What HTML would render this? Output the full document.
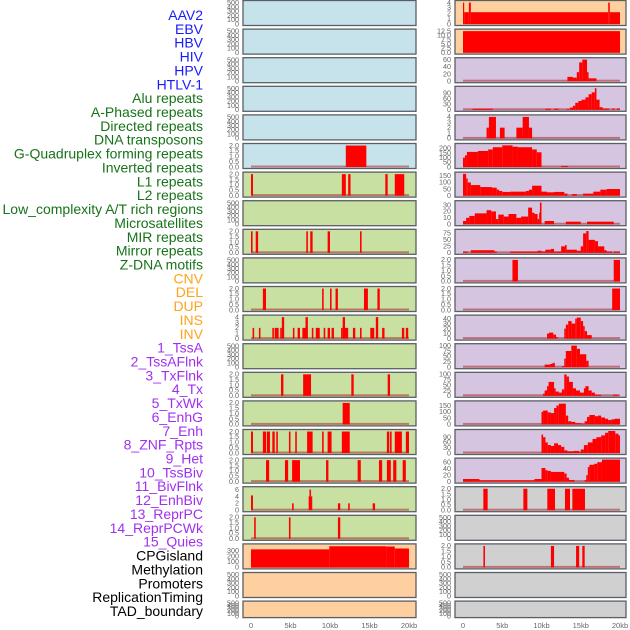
<!DOCTYPE html>
<html><head><meta charset="utf-8">
<style>
html,body{margin:0;padding:0;background:#fff;}
svg{display:block;font-family:"Liberation Sans",sans-serif;}
</style></head>
<body>
<svg id="chart" width="630" height="630" viewBox="0 0 630 630" xmlns="http://www.w3.org/2000/svg">
<g id="labels"></g>
<g id="panels"></g>
<g id="xaxis"></g>
</svg>
<script>
// ---- data ----
const featureLabels = ["AAV2","EBV","HBV","HIV","HPV","HTLV-1","Alu repeats","A-Phased repeats","Directed repeats","DNA transposons","G-Quadruplex forming repeats","Inverted repeats","L1 repeats","L2 repeats","Low_complexity A/T rich regions","Microsatellites","MIR repeats","Mirror repeats","Z-DNA motifs","CNV","DEL","DUP","INS","INV","1_TssA","2_TssAFlnk","3_TxFlnk","4_Tx","5_TxWk","6_EnhG","7_Enh","8_ZNF_Rpts","9_Het","10_TssBiv","11_BivFlnk","12_EnhBiv","13_ReprPC","14_ReprPCWk","15_Quies","CPGisland","Methylation","Promoters","ReplicationTiming","TAD_boundary"];
const labelGroups = ["virus","virus","virus","virus","virus","virus","repeat","repeat","repeat","repeat","repeat","repeat","repeat","repeat","repeat","repeat","repeat","repeat","repeat","sv","sv","sv","sv","sv","state","state","state","state","state","state","state","state","state","state","state","state","state","state","state","other","other","other","other","other"];
const xTickValues = [0,5,10,15,20];
const xTickLabels = ["0","5kb","10kb","15kb","20kb"];
const ticks500 = [0,100,200,300,400,500];
const ticks2 = [0,0.5,1,1.5,2];

// left column segments [startKb, endKb, value]
const L5 = [[12.0,14.6,2]];
const L6 = [[0,0.25,2],[11.5,12.0,2],[12.3,12.6,2],[17.0,17.3,2],[18.2,19.4,2]];
const L8 = [[0,0.2,2],[0.6,0.9,2],[7.0,7.2,2],[7.5,7.8,2],[9.7,10.0,2],[13.8,14.0,2]];
const L10 = [[1.5,1.9,2],[9.0,9.2,2],[10.0,10.2,2],[10.7,11.0,2],[14.3,14.8,2],[16.0,16.3,2]];
const L11 = [[0.2,0.4,2],[1.0,1.2,2],[2.7,2.9,2],[3.0,3.5,2],[3.7,3.9,2],[3.9,4.2,4],[5.3,5.5,2],[5.9,6.2,2],[6.5,6.9,2],[6.9,7.2,4],[7.7,7.9,2],[8.2,8.7,2],[9.2,9.4,2],[9.7,10.0,2],[10.2,10.5,2],[11.4,11.6,2],[11.6,11.9,4],[11.9,12.3,2],[12.9,13.2,2],[13.8,14.0,2],[15.1,15.6,2],[15.8,16.1,4],[16.6,16.9,2],[19.1,19.4,2],[19.6,19.9,2]];
const L13 = [[3.8,4.1,2],[6.6,7.6,2],[12.7,13.0,2],[17.3,17.6,2]];
const L14 = [[11.6,12.5,2]];
const L15 = [[0,0.25,2],[1.5,1.9,2],[2.0,2.4,2],[2.7,3.0,2],[3.2,3.4,2],[4.8,5.0,2],[5.6,5.8,2],[7.1,7.8,2],[9.0,9.2,2],[9.7,10.2,2],[11.5,12.5,2],[17.2,17.5,2],[17.6,17.8,2],[18.2,19.1,2],[19.6,20.0,2]];
const L16 = [[1.9,2.3,2],[4.3,4.7,2],[5.2,6.2,2],[9.5,9.8,2],[13.5,13.9,2],[16.2,16.6,2],[17.2,17.7,2],[18.0,18.4,2],[19.2,19.6,2]];
const L17 = [[0,0.25,4.3],[5.2,5.4,2],[7.3,7.4,4],[7.4,7.6,6],[7.6,7.7,4],[11.0,11.3,2],[12.3,12.5,2],[15.4,15.7,2]];
const L18 = [[0.4,0.6,2],[4.8,5.0,2],[11.0,11.3,2]];
const L19 = [[0,9.9,320],[9.9,17.1,375],[17.1,18.2,370],[18.2,20.0,335]];

// right column segments
const R0 = [[0,0.15,4],[0.15,0.75,2.2],[0.75,1.0,4],[1.0,18.5,2.2],[18.5,18.7,4],[18.7,20,2.2]];
const R1 = [[0,20,12.5]];
const R2 = [[13.3,14.0,12],[14.0,14.5,10],[14.5,14.8,25],[14.8,15.2,52],[15.2,15.8,60],[15.8,16.0,25],[16.0,17.0,8]];
const R3 = [[1.2,3.8,6],[10.5,11.2,6],[11.6,12.2,6],[13.2,13.5,4],[13.6,14.0,12],[14.0,14.3,22],[14.3,14.7,38],[14.7,15.1,48],[15.1,15.6,55],[15.6,16.0,68],[16.0,16.4,85],[16.4,16.8,95],[16.8,17.0,118],[17.0,17.4,55],[17.4,17.8,14],[17.8,18.6,7],[19.0,19.3,7],[19.6,20.0,7]];
const R4 = [[3.0,3.3,2],[3.3,4.2,4],[4.7,5.3,2],[6.8,7.6,2],[7.6,8.4,4],[8.4,8.8,2]];
const R5 = [[0,0.25,100],[0.25,0.5,125],[0.5,1.9,162],[1.9,3.2,172],[3.2,3.8,188],[3.8,5.0,212],[5.0,6.3,232],[6.3,7.0,218],[7.0,8.8,212],[8.8,9.4,188],[9.4,10.0,158],[12.5,13.4,10]];
const R6 = [[0,0.4,165],[0.4,0.6,130],[0.6,1.0,100],[1.0,2.2,80],[2.2,3.7,65],[3.7,4.3,60],[4.3,4.6,45],[4.6,5.0,35],[5.0,6.0,28],[6.0,8.0,30],[8.0,8.4,35],[8.4,8.8,45],[8.8,10.0,75],[10.0,10.7,30],[10.7,11.6,25],[11.6,12.9,28],[12.9,13.3,15],[13.9,14.5,12],[15.3,16.6,15],[16.6,17.5,30],[17.5,18.3,45],[18.3,20,50]];
const R7 = [[0,0.4,5],[0.4,0.8,10],[0.8,1.5,13],[1.5,3.0,17],[3.0,3.6,22],[3.6,4.2,20],[4.2,4.5,8],[4.5,5.2,15],[5.2,5.8,12],[5.8,6.8,16],[6.8,7.4,10],[7.4,8.3,12],[8.3,8.8,26],[8.8,9.1,18],[9.1,9.5,16],[9.5,9.7,8],[9.7,9.8,18],[9.8,10.0,34],[10.4,11.6,5],[13.1,15.0,4],[15.8,19.2,4]];
const R8 = [[0,0.6,5],[1.0,4.0,10],[4.0,4.3,5],[6.0,9.5,5],[9.5,10,8],[10,10.5,5],[10.5,11.2,12],[11.2,11.6,15],[11.6,12.5,5],[12.5,13.0,25],[13.0,13.2,30],[13.2,14.5,12],[14.5,15.0,8],[15.0,15.3,25],[15.3,15.7,75],[15.7,16.0,84],[16.0,16.8,50],[16.8,17.2,45],[17.2,18.0,25],[18.0,18.3,10],[18.3,19.0,5],[19.2,20,5]];
const R9 = [[6.3,7.0,2],[19.2,20,2]];
const R10 = [[19.0,20,2]];
const R11 = [[10.7,10.95,10],[10.95,11.5,12],[11.5,11.85,8],[11.85,12.06,3],[12.9,13.1,20],[13.1,13.4,28],[13.4,13.84,35],[13.84,14.3,30],[14.3,14.5,40],[14.5,15.0,42],[15.0,15.3,35],[15.3,15.5,25],[15.5,15.8,15],[15.8,16.4,7]];
const R12 = [[10.4,11.1,12],[11.1,11.4,15],[11.4,11.7,20],[12.6,12.9,5],[12.9,13.1,40],[13.1,13.8,75],[13.8,14.5,100],[14.5,14.9,85],[14.9,15.7,60],[15.7,16.0,30]];
const R13 = [[10.2,10.4,10],[10.4,10.7,25],[10.7,10.9,45],[10.9,11.6,65],[11.6,11.8,35],[11.8,12.2,20],[12.2,12.6,15],[12.6,12.9,30],[12.9,13.2,100],[13.2,13.5,90],[13.5,14.0,65],[14.0,14.4,35],[14.4,14.9,25],[14.9,15.4,15],[15.4,15.6,35],[15.6,16.0,45],[16.0,16.4,25],[16.4,16.8,15],[16.8,17.6,5],[19.1,19.8,5]];
const R14 = [[10.0,10.2,100],[10.2,10.8,110],[10.8,11.2,95],[11.2,11.6,90],[11.6,11.9,130],[11.9,12.2,150],[12.2,13.1,165],[13.1,13.4,70],[13.4,13.8,25],[13.8,14.3,20],[14.3,15.1,10],[15.1,15.5,5],[15.5,15.8,25],[15.8,16.1,60],[16.1,16.8,75],[16.8,17.2,65],[17.2,17.6,70],[17.6,18.1,55],[18.1,18.5,45],[18.5,18.9,35],[18.9,19.3,40],[19.3,20,45]];
const R15 = [[10.0,10.2,105],[10.2,10.5,90],[10.5,10.8,60],[10.8,11.2,45],[11.2,11.6,40],[11.6,12.1,55],[12.1,12.5,45],[12.5,12.9,35],[12.9,13.3,15],[13.3,14.1,10],[14.1,14.8,12],[14.8,15.0,5],[15.0,15.4,20],[15.4,15.9,45],[15.9,16.5,60],[16.5,17.0,80],[17.0,17.6,90],[17.6,18.1,100],[18.1,18.5,115],[18.5,19.4,125],[19.4,19.8,110],[19.8,20,100]];
const R16 = [[0,2.1,8],[2.1,9.1,4],[9.1,10.0,8],[10.0,10.5,42],[10.5,10.8,35],[10.8,11.2,33],[11.2,12.9,30],[12.9,13.2,25],[13.2,13.5,12],[13.5,14.2,5],[15.5,15.7,5],[15.7,15.9,20],[15.9,16.1,45],[16.1,16.7,52],[16.7,17.1,55],[17.1,17.7,60],[17.7,20,68]];
const R17 = [[2.59,3.14,2],[7.69,8.2,2],[10.74,11.72,2],[12.99,13.63,2],[13.93,15.54,2]];
const R19 = [[2.6,2.8,2],[11.2,11.6,2],[14.4,14.8,2],[15.2,15.5,2]];

const leftSegs  = [null,null,null,null,null,L5,L6,null,L8,null,L10,L11,null,L13,L14,L15,L16,L17,L18,L19,null,null];
const leftYmax  = [520,520,520,520,520,2.05,2.05,520,2.05,520,2.05,4.1,520,2.05,2.05,2.05,2.05,6.4,2.05,390,520,520];
const leftTicks = [ticks500,ticks500,ticks500,ticks500,ticks500,ticks2,ticks2,ticks500,ticks2,ticks500,ticks2,[0,1,2,3,4],ticks500,ticks2,ticks2,ticks2,ticks2,[0,2,4,6],ticks2,[0,100,200,300],ticks500,ticks500];
const rightSegs  = [R0,R1,R2,R3,R4,R5,R6,R7,R8,R9,R10,R11,R12,R13,R14,R15,R16,R17,null,R19,null,null];
const rightYmax  = [4.1,12.8,61,120,4.1,236,167,34.5,85,2.05,2.05,44,102,103,175,125,68,2.05,520,2.05,520,520];
const rightTicks = [[0,1,2,3,4],[0,2.5,5,7.5,10,12.5],[0,20,40,60],[0,30,60,90],[0,1,2,3,4],[0,50,100,150,200],[0,50,100,150],[0,10,20,30],[0,25,50,75],ticks2,ticks2,[0,10,20,30,40],[0,25,50,75,100],[0,25,50,75,100],[0,50,100,150],[0,30,60,90],[0,20,40,60],ticks2,ticks500,ticks2,ticks500,ticks500];

// ---- layout ----
const NS = "http://www.w3.org/2000/svg";
const labelColors = {virus:"#1a1aff",repeat:"#17731a",sv:"#ffa31a",state:"#a030f0",other:"#000000"};
const leftBg  = i => i<=5 ? "#c6e3eb" : (i<=18 ? "#c8e0a2" : "#ffd09f");
const rightBg = i => i<=1 ? "#ffd09f" : (i<=16 ? "#d5c5e1" : "#d0d0d0");
const cols = [{x0:243,x1:416,k0:251,k20:409,tx:239},{x0:455,x1:626,k0:463,k20:620,tx:451}];
function rowTop(i){return 0.5+i*28.6;}
function rowH(i){return i===21?16.5:25;}
function xs(col,kb){return col.k0+(col.k20-col.k0)*kb/20;}
function ys(i,v,ymax){const b=rowTop(i)+rowH(i)-1.5,t=rowTop(i)+1.5;return b-(b-t)*v/ymax;}
function mk(tag,attrs,parent){const e=document.createElementNS(NS,tag);for(const k in attrs)e.setAttribute(k,attrs[k]);parent.appendChild(e);return e;}
function fmt(v,ticks){const dec=ticks.some(t=>t%1!==0);if(!dec)return String(v);return v.toFixed(1);}

const lg=document.getElementById('labels');
featureLabels.forEach((txt,i)=>{
  const t=mk('text',{x:203,y:15+i*13.86+5,'text-anchor':'end','font-size':'14',fill:labelColors[labelGroups[i]]},lg);
  t.textContent=txt;
  
  
});

const pg=document.getElementById('panels');
function drawPanel(c,i,segs,ymax,ticks,bg,side){
  const col=cols[c];
  const g=mk('g',{},pg);
  
  
  const top=rowTop(i),h=rowH(i);
  const r=mk('rect',{x:col.x0,y:top,width:col.x1-col.x0,height:h,fill:bg,stroke:'#5a5f66','stroke-width':1.3},g);
  
  
  ticks.forEach(tv=>{
    const tt=mk('text',{x:col.tx,y:ys(i,tv,ymax)+2.3,'text-anchor':'end','font-size':'7.2',fill:'#666'},g);
    tt.textContent=fmt(tv,ticks);
    
    
  });
  if(segs){
    const bl=mk('rect',{x:xs(col,0),y:ys(i,0,ymax)-1.5,width:xs(col,20)-xs(col,0),height:2,fill:'rgba(170,40,40,0.55)'},g);
    
    
    segs.forEach(s=>{
      const xa=xs(col,s[0]),xb=xs(col,s[1]);
      const yt=Math.max(ys(i,s[2],ymax),top+0.6);
      const bar=mk('rect',{x:xa,y:yt,width:Math.max(xb-xa,1.2),height:ys(i,0,ymax)-yt,fill:'#ff0000'},g);
      
      
    });
  }
}
for(let i=0;i<22;i++){
  drawPanel(0,i,leftSegs[i],leftYmax[i],leftTicks[i],leftBg(i),'left');
  drawPanel(1,i,rightSegs[i],rightYmax[i],rightTicks[i],rightBg(i),'right');
}

const xg=document.getElementById('xaxis');
cols.forEach((col,c)=>{
  xTickValues.forEach((v,j)=>{
    const t=mk('text',{x:xs(col,v),y:628,'text-anchor':'middle','font-size':'7.5',fill:'#666'},xg);
    t.textContent=xTickLabels[j];
    
    
  });
});
</script>
</body></html>
